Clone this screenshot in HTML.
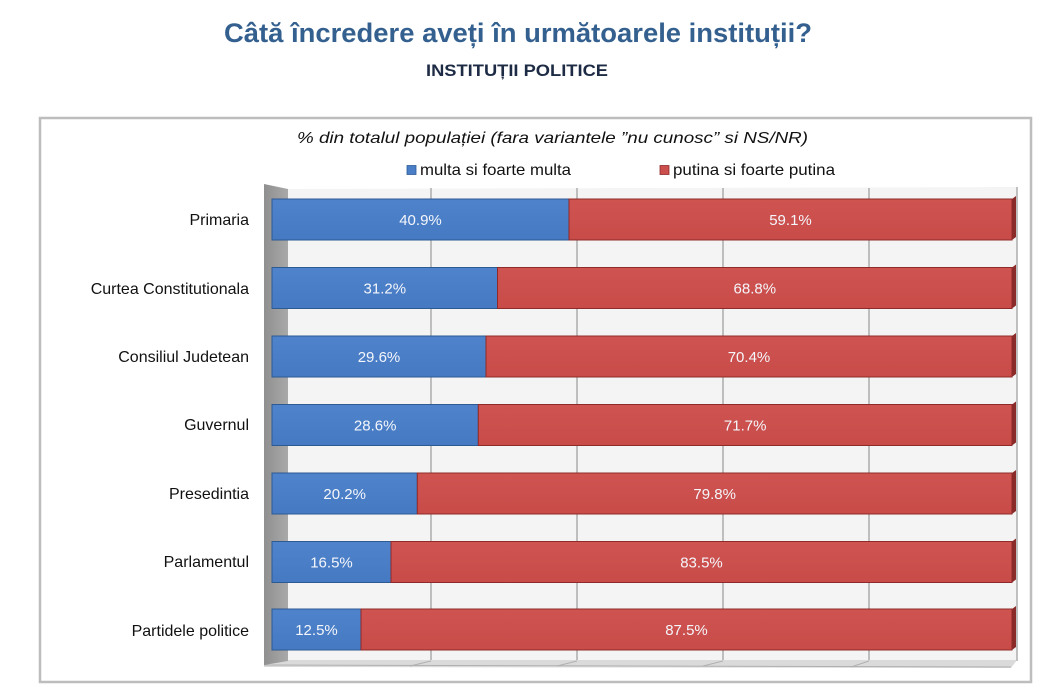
<!DOCTYPE html>
<html>
<head>
<meta charset="utf-8">
<style>
  html,body{margin:0;padding:0;background:#fff;}
  svg{display:block;}
  text{font-family:"Liberation Sans", Arial, sans-serif;}
</style>
</head>
<body>
<svg width="1060" height="700" viewBox="0 0 1060 700" xmlns="http://www.w3.org/2000/svg">
  <rect x="0" y="0" width="1060" height="700" fill="#ffffff"/>
  <!-- Titles -->
  <text x="224" y="42" font-size="27" font-weight="bold" fill="#34608f" textLength="588" lengthAdjust="spacingAndGlyphs">Câtă încredere aveți în următoarele instituții?</text>
  <text x="426" y="76" font-size="17" font-weight="bold" fill="#1e2b45" textLength="182" lengthAdjust="spacingAndGlyphs">INSTITUȚII POLITICE</text>

  <!-- Chart box -->
  <rect x="40" y="118" width="991" height="564" fill="#ffffff" stroke="#bdbdbd" stroke-width="2.5"/>

  <text x="297" y="143" font-size="16" font-style="italic" fill="#111" textLength="511" lengthAdjust="spacingAndGlyphs">% din totalul populației (fara variantele ”nu cunosc” si NS/NR)</text>

  <!-- Legend -->
  <rect x="407" y="165.5" width="9" height="9" fill="#4a7ec7" stroke="#2f5c97" stroke-width="0.8"/>
  <text x="420" y="175" font-size="16" fill="#111" textLength="151" lengthAdjust="spacingAndGlyphs">multa si foarte multa</text>
  <rect x="660" y="165.5" width="9" height="9" fill="#cb4f4c" stroke="#8e2b2a" stroke-width="0.8"/>
  <text x="673" y="175" font-size="16" fill="#111" textLength="162" lengthAdjust="spacingAndGlyphs">putina si foarte putina</text>

  <!-- Back wall -->
  <polygon points="288,189 1017,187 1017,661 288,661" fill="#f4f4f4"/>
  <!-- Gridlines on back wall -->
  <g stroke="#9a9a9a" stroke-width="1.2">
    <line x1="431" y1="188" x2="431" y2="661"/>
    <line x1="577" y1="188" x2="577" y2="661"/>
    <line x1="723" y1="188" x2="723" y2="661"/>
    <line x1="869" y1="188" x2="869" y2="661"/>
    <line x1="1017" y1="187" x2="1017" y2="661"/>
  </g>
  <!-- Floor -->
  <polygon points="264,664 288,660 1017,660 1011,668 264,667" fill="#dadada"/>
  <g stroke="#b0b0b0" stroke-width="1">
    <line x1="264" y1="665" x2="1011" y2="667"/>
    <line x1="431" y1="661" x2="410" y2="666"/>
    <line x1="577" y1="661" x2="557" y2="666"/>
    <line x1="723" y1="661" x2="703" y2="666"/>
    <line x1="869" y1="661" x2="851" y2="667"/>
  </g>
  <!-- Left wall -->
  <defs>
    <linearGradient id="wall" x1="0" y1="0" x2="1" y2="0">
      <stop offset="0" stop-color="#8f8f8f"/>
      <stop offset="1" stop-color="#a9a9a9"/>
    </linearGradient>
    <linearGradient id="blueg" x1="0" y1="0" x2="0" y2="1">
      <stop offset="0" stop-color="#4f83cb"/>
      <stop offset="1" stop-color="#4579c2"/>
    </linearGradient>
    <linearGradient id="redg" x1="0" y1="0" x2="0" y2="1">
      <stop offset="0" stop-color="#cf5451"/>
      <stop offset="1" stop-color="#c84b48"/>
    </linearGradient>
  </defs>
  <polygon points="264,184 288,189 288,661 264,665" fill="url(#wall)"/>

  <!-- Bars -->
  <g id="bars">
    <g>
      <rect x="272" y="199" width="297" height="41" fill="url(#blueg)" stroke="#2d5a93" stroke-width="1"/>
      <rect x="569" y="199" width="443" height="41" fill="url(#redg)" stroke="#8e2b2a" stroke-width="1"/>
      <polygon points="1012,199 1016,196 1016,237 1012,240" fill="#8a2b2a"/>
    </g>
    <g>
      <rect x="272" y="267.5" width="225.5" height="41" fill="url(#blueg)" stroke="#2d5a93" stroke-width="1"/>
      <rect x="497.5" y="267.5" width="514.5" height="41" fill="url(#redg)" stroke="#8e2b2a" stroke-width="1"/>
      <polygon points="1012,267.5 1016,264.5 1016,305.5 1012,308.5" fill="#8a2b2a"/>
    </g>
    <g>
      <rect x="272" y="336" width="214" height="41" fill="url(#blueg)" stroke="#2d5a93" stroke-width="1"/>
      <rect x="486" y="336" width="526" height="41" fill="url(#redg)" stroke="#8e2b2a" stroke-width="1"/>
      <polygon points="1012,336 1016,333 1016,374 1012,377" fill="#8a2b2a"/>
    </g>
    <g>
      <rect x="272" y="404.5" width="206.3" height="41" fill="url(#blueg)" stroke="#2d5a93" stroke-width="1"/>
      <rect x="478.3" y="404.5" width="533.7" height="41" fill="url(#redg)" stroke="#8e2b2a" stroke-width="1"/>
      <polygon points="1012,404.5 1016,401.5 1016,442.5 1012,445.5" fill="#8a2b2a"/>
    </g>
    <g>
      <rect x="272" y="473" width="145.3" height="41" fill="url(#blueg)" stroke="#2d5a93" stroke-width="1"/>
      <rect x="417.3" y="473" width="594.7" height="41" fill="url(#redg)" stroke="#8e2b2a" stroke-width="1"/>
      <polygon points="1012,473 1016,470 1016,511 1012,514" fill="#8a2b2a"/>
    </g>
    <g>
      <rect x="272" y="541.5" width="119" height="41" fill="url(#blueg)" stroke="#2d5a93" stroke-width="1"/>
      <rect x="391" y="541.5" width="621" height="41" fill="url(#redg)" stroke="#8e2b2a" stroke-width="1"/>
      <polygon points="1012,541.5 1016,538.5 1016,579.5 1012,582.5" fill="#8a2b2a"/>
    </g>
    <g>
      <rect x="272" y="609" width="89" height="41" fill="url(#blueg)" stroke="#2d5a93" stroke-width="1"/>
      <rect x="361" y="609" width="651" height="41" fill="url(#redg)" stroke="#8e2b2a" stroke-width="1"/>
      <polygon points="1012,609 1016,606 1016,647 1012,650" fill="#8a2b2a"/>
    </g>
  </g>

  <!-- Value labels -->
  <g font-size="15" fill="#f4f6fb" text-anchor="middle">
    <text x="420.5" y="225">40.9%</text>
    <text x="790.5" y="225">59.1%</text>
    <text x="384.8" y="293.5">31.2%</text>
    <text x="754.8" y="293.5">68.8%</text>
    <text x="379" y="362">29.6%</text>
    <text x="749" y="362">70.4%</text>
    <text x="375.2" y="430.5">28.6%</text>
    <text x="745.2" y="430.5">71.7%</text>
    <text x="344.7" y="499">20.2%</text>
    <text x="714.7" y="499">79.8%</text>
    <text x="331.5" y="567.5">16.5%</text>
    <text x="701.5" y="567.5">83.5%</text>
    <text x="316.5" y="635">12.5%</text>
    <text x="686.5" y="635">87.5%</text>
  </g>

  <!-- Category labels -->
  <g font-size="16" fill="#111" text-anchor="end">
    <text x="249" y="225">Primaria</text>
    <text x="249" y="294">Curtea Constitutionala</text>
    <text x="249" y="362">Consiliul Judetean</text>
    <text x="249" y="430">Guvernul</text>
    <text x="249" y="499">Presedintia</text>
    <text x="249" y="567">Parlamentul</text>
    <text x="249" y="636">Partidele politice</text>
  </g>
</svg>
</body>
</html>
